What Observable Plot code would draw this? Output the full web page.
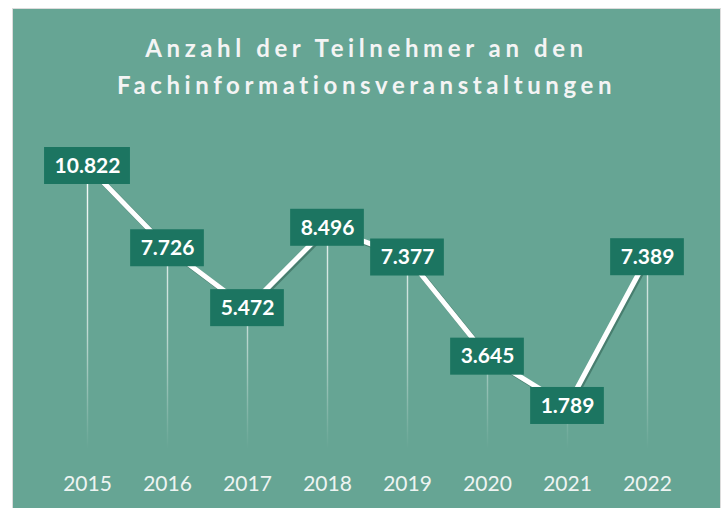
<!DOCTYPE html>
<html>
<head>
<meta charset="utf-8">
<script src="https://cdn.jsdelivr.net/npm/d3@7"></script>
<script src="https://cdn.jsdelivr.net/npm/@observablehq/plot@0.6"></script>
<style>
  html, body { margin: 0; padding: 0; background: #ffffff; }
  #chart {
    position: absolute; left: 13px; top: 9px; width: 707px; height: 499px;
    background: #66a594; box-shadow: 0 0 0 1px #dcdcdc; overflow: hidden;
  }
  #title {
    position: absolute; left: 0; top: 0; width: 707px; height: 110px;
    font-family: Lato, "Open Sans", sans-serif; font-weight: 700; font-size: 24px;
    letter-spacing: 4.6px; color: #f4f4f4; text-align: center;
  }
  #title div { position: absolute; left: 0; width: 100%; line-height: 28px; }
  #plot { position: absolute; left: 0; top: 110px; }
</style>
</head>
<body>
<div id="chart">
  <div id="title"><div id="t1"></div><div id="t2"></div></div>
  <div id="plot"></div>
</div>
<script>
const titleLines = ["Anzahl der Teilnehmer an den", "Fachinformationsveranstaltungen"];
const years = ["2015", "2016", "2017", "2018", "2019", "2020", "2021", "2022"];
const values = [10822, 7726, 5472, 8496, 7377, 3645, 1789, 7389];
const labels = ["10.822", "7.726", "5.472", "8.496", "7.377", "3.645", "1.789", "7.389"];

document.getElementById("t1").textContent = titleLines[0];
document.getElementById("t2").textContent = titleLines[1];
document.getElementById("t1").style.top = (39 - 14) + "px";
document.getElementById("t2").style.top = (76 - 14) + "px";

const data = years.map((y, i) => ({year: y, value: values[i], label: labels[i]}));

const W = 707, H = 389;
const boxColor = "#1c7561";

const plot = Plot.plot({
  width: W,
  height: H,
  marginTop: 0,
  marginLeft: 0,
  marginRight: 0,
  marginBottom: 50,
  style: {background: "transparent", overflow: "visible"},
  x: {type: "point", domain: years, range: [70.5, 637], padding: 0},
  y: {domain: [0, d3.max(values)], range: [334, 46.5], axis: null},
  marks: [
    Plot.ruleX(data, {x: "year", y1: 0, y2: "value", stroke: "url(#dropGrad)", strokeWidth: 1.4}),
    Plot.line(data, {x: "year", y: "value", stroke: "#2f5f51", strokeOpacity: 0.55, strokeWidth: 5.5, dx: 1.5, dy: 1.5}),
    Plot.line(data, {x: "year", y: "value", stroke: "#ffffff", strokeWidth: 5}),
    Plot.text(data, {x: "year", y: "value", text: "label", fill: "#ffffff",
      fontFamily: "Lato, 'Open Sans', sans-serif", fontWeight: 700, fontSize: 21,
      className: "vlabels"}),
    Plot.axisX({anchor: "bottom", tickSize: 0, tickPadding: 18, fontSize: 21,
      fontFamily: "Lato, 'Open Sans', sans-serif", color: "#eef4f2", label: null})
  ]
});

document.getElementById("plot").appendChild(plot);

const svg = d3.select(plot);
const defs = svg.insert("defs", ":first-child");
const grad = defs.append("linearGradient")
  .attr("id", "dropGrad").attr("gradientUnits", "userSpaceOnUse")
  .attr("x1", 0).attr("x2", 0).attr("y1", 60).attr("y2", 330);
grad.append("stop").attr("offset", "0%").attr("stop-color", "#ffffff").attr("stop-opacity", 0.95);
grad.append("stop").attr("offset", "55%").attr("stop-color", "#ffffff").attr("stop-opacity", 0.6);
grad.append("stop").attr("offset", "100%").attr("stop-color", "#ffffff").attr("stop-opacity", 0);

// label boxes, placed with the plot's own scales
const xs = plot.scale("x"), ys = plot.scale("y");
const textG = svg.select("g.vlabels").node();
const texts = svg.selectAll("g.vlabels text").nodes();
const boxG = d3.select(textG.parentNode).insert("g", () => textG);
texts.forEach((t, i) => {
  const bb = t.getBBox();
  const cx = xs.apply(data[i].year);
  const cy = ys.apply(data[i].value);
  const w = bb.width + 20, h = 37;
  boxG.append("rect").attr("x", cx - w / 2).attr("y", cy - h / 2)
    .attr("width", w).attr("height", h).attr("fill", boxColor);
});
</script>
</body>
</html>
